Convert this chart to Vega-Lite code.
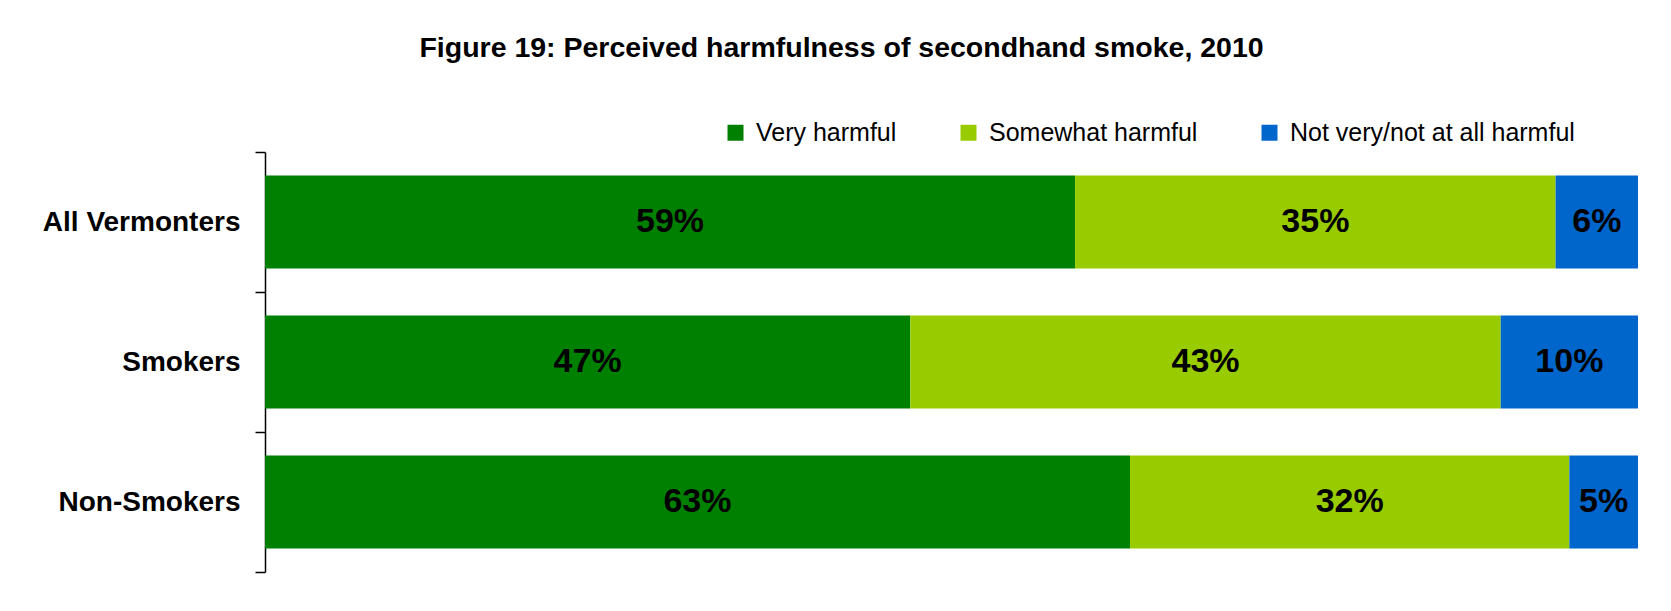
{
  "$schema": "https://vega.github.io/schema/vega-lite/v6.json",
  "autosize": "none",
  "width": 1373,
  "height": 420,
  "padding": {"left": 265, "top": 152, "right": 33, "bottom": 39},
  "background": "white",
  "title": {
    "text": "Figure 19: Perceived harmfulness of secondhand smoke, 2010",
    "font": "Liberation Sans",
    "fontSize": 28.5,
    "fontWeight": "bold",
    "color": "black",
    "anchor": "middle",
    "dx": -110,
    "offset": 58
  },
  "config": {
    "view": {"stroke": null},
    "font": "Liberation Sans"
  },
  "data": {
    "values": [
      {"group": "All Vermonters", "rating": "Very harmful", "order": 1, "pct": 0.59},
      {"group": "All Vermonters", "rating": "Somewhat harmful", "order": 2, "pct": 0.35},
      {"group": "All Vermonters", "rating": "Not very/not at all harmful", "order": 3, "pct": 0.06},
      {"group": "Smokers", "rating": "Very harmful", "order": 1, "pct": 0.47},
      {"group": "Smokers", "rating": "Somewhat harmful", "order": 2, "pct": 0.43},
      {"group": "Smokers", "rating": "Not very/not at all harmful", "order": 3, "pct": 0.10},
      {"group": "Non-Smokers", "rating": "Very harmful", "order": 1, "pct": 0.63},
      {"group": "Non-Smokers", "rating": "Somewhat harmful", "order": 2, "pct": 0.32},
      {"group": "Non-Smokers", "rating": "Not very/not at all harmful", "order": 3, "pct": 0.05}
    ]
  },
  "transform": [
    {"stack": "pct", "groupby": ["group"], "sort": [{"field": "order"}], "as": ["x0", "x1"]},
    {"calculate": "(datum.x0 + datum.x1) / 2", "as": "xmid"}
  ],
  "encoding": {
    "y": {
      "field": "group",
      "type": "nominal",
      "sort": ["All Vermonters", "Smokers", "Non-Smokers"],
      "scale": {"paddingInner": 0, "paddingOuter": 0},
      "axis": {
        "title": null,
        "tickBand": "extent",
        "domainColor": "black",
        "domainWidth": 1.5,
        "tickColor": "black",
        "tickWidth": 1.5,
        "tickSize": 10,
        "labelFontSize": 28,
        "labelFontWeight": "bold",
        "labelColor": "black",
        "labelPadding": 15,
        "labelLimit": 400,
        "labelFont": "Liberation Sans"
      }
    }
  },
  "layer": [
    {
      "mark": {"type": "bar", "height": {"band": 0.664}},
      "encoding": {
        "x": {"field": "x0", "type": "quantitative", "scale": {"domain": [0, 1]}, "axis": null},
        "x2": {"field": "x1"},
        "color": {
          "field": "rating",
          "type": "nominal",
          "sort": ["Very harmful", "Somewhat harmful", "Not very/not at all harmful"],
          "scale": {
            "domain": ["Very harmful", "Somewhat harmful", "Not very/not at all harmful"],
            "range": ["#008000", "#99CC00", "#0066CC"]
          },
          "legend": {
            "title": null,
            "orient": "none",
            "direction": "horizontal",
            "legendX": 458,
            "legendY": -32,
            "symbolType": "square",
            "symbolSize": 256,
            "symbolStrokeWidth": 0,
            "symbolOpacity": 1,
            "labelFontSize": 25,
            "labelColor": "black",
            "labelFont": "Liberation Sans",
            "labelOffset": 8,
            "columnPadding": 59,
            "labelLimit": 400
          }
        }
      }
    },
    {
      "mark": {"type": "text", "fontSize": 34, "fontWeight": "bold", "color": "black", "baseline": "middle", "align": "center", "font": "Liberation Sans"},
      "encoding": {
        "x": {"field": "xmid", "type": "quantitative"},
        "text": {"field": "pct", "type": "quantitative", "format": ".0%"}
      }
    }
  ]
}
